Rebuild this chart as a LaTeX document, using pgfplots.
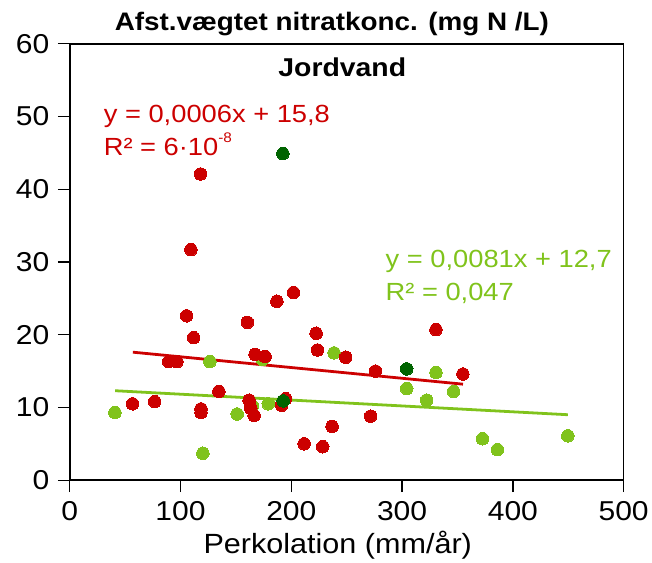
\documentclass[border=0pt]{standalone}
\usepackage{fontspec}
\setmainfont{Liberation Sans}[FakeStretch=1.1]
\usepackage{pgfplots}
\pgfplotsset{compat=1.18}
\definecolor{redc}{HTML}{CC0000}
\definecolor{lgreen}{HTML}{80C31C}
\definecolor{dgreen}{HTML}{006400}
\begin{document}
\begin{tikzpicture}
\begin{axis}[
  scale only axis, width=556bp, height=438bp,
  xmin=0, xmax=500, ymin=0, ymax=60,
  xtick={0,100,...,500}, ytick={0,10,...,60},
  tick align=outside, xtick pos=bottom, ytick pos=left,
  major tick length=12bp,
  axis line style={line width=1.6bp},
  every tick/.style={line width=1.3bp, black},
  /pgf/number format/assume math mode=true,
  tick label style={font=\fontsize{27.5}{27.5}\selectfont},
  xticklabel style={yshift=-6bp},
  yticklabel style={xshift=-5bp},
  clip=false,
]
\addplot[redc, line width=2.8bp, no marks] coordinates {(57,17.6) (355,13.2)};
\addplot[lgreen, line width=2.8bp, no marks] coordinates {(41,12.3) (449.6,9.0)};
\addplot[lgreen, only marks, mark=*, mark size=6.3bp, mark options={draw=lgreen, fill=lgreen, line width=0pt}] coordinates {
(40.8,9.3) (120.2,3.7) (126.5,16.3) (151.1,9.1) (164.9,10.2) (173.9,16.6)
(179.2,10.5) (238.6,17.5) (304.2,12.6) (322.2,11.0) (330.6,14.8) (346.5,12.2)
(372.6,5.7) (386.1,4.2) (449.6,6.1)};
\addplot[redc, only marks, mark=*, mark size=6.3bp, mark options={draw=redc, fill=redc, line width=0pt}] coordinates {
(56.7,10.5) (76.7,10.8) (89.3,16.3) (96.8,16.3) (105.5,22.6) (109.4,31.7)
(111.8,19.6) (118.1,42.1) (118.5,9.3) (118.5,9.8) (134.6,12.2) (160.4,21.7)
(161.9,11.0) (163.4,9.9) (166.4,8.9) (167.3,17.3) (176.3,17.0) (187.0,24.6)
(191.3,10.3) (194.9,11.2) (202.0,25.8) (211.6,5.0) (222.4,20.2) (223.6,17.9)
(228.4,4.6) (236.8,7.4) (249.1,16.9) (271.6,8.8) (276.0,15.0) (330.6,20.7)
(354.9,14.6)};
\addplot[dgreen, only marks, mark=*, mark size=6.3bp, mark options={draw=dgreen, fill=dgreen, line width=0pt}] coordinates {
(192.4,44.9) (192.7,10.9) (304.2,15.3)};
\node[anchor=base west, inner sep=0pt, font=\bfseries\fontsize{25.5}{25.5}\selectfont] at (axis cs:40.5,61.9) {Afst.vægtet nitratkonc. (mg N /L)};
\node[anchor=base, inner sep=0pt, font=\bfseries\fontsize{26}{26}\selectfont] at (axis cs:246,55.5) {Jordvand};
\node[anchor=base west, inner sep=0pt, text=redc, font=\fontsize{25}{25}\selectfont] at (axis cs:30.6,49.2) {y = 0,0006x + 15,8};
\node[anchor=base west, inner sep=0pt, text=redc, font=\fontsize{25}{25}\selectfont] at (axis cs:30.6,44.7) {R² = 6·10\raisebox{0.5em}{\fontsize{14}{14}\selectfont -8}};
\node[anchor=base west, inner sep=0pt, text=lgreen, font=\fontsize{25}{25}\selectfont] at (axis cs:285,29.2) {y = 0,0081x + 12,7};
\node[anchor=base west, inner sep=0pt, text=lgreen, font=\fontsize{25}{25}\selectfont] at (axis cs:285,24.7) {R² = 0,047};
\node[anchor=base, inner sep=0pt, font=\fontsize{28}{28}\selectfont] at (axis cs:241.9,-10.1) {Perkolation (mm/år)};
\end{axis}
\path ([xshift=-70bp,yshift=-83bp]current axis.south west) rectangle ([xshift=26bp,yshift=44bp]current axis.north east);
\end{tikzpicture}
\end{document}
